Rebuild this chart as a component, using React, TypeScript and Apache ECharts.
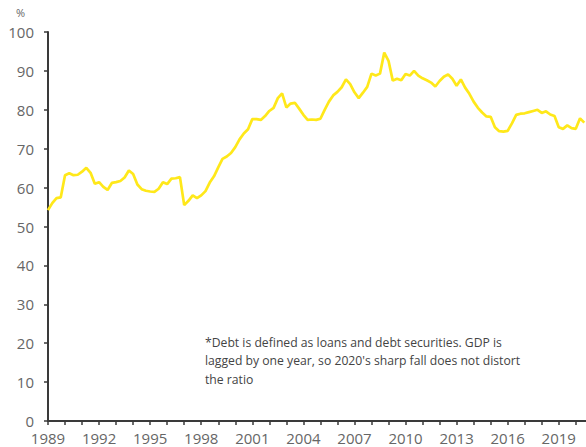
import React, { useEffect, useRef } from "react";
import * as echarts from "echarts";

// Quarterly values, 1989 Q1 onward (% of GDP)
const startYear = 1989;
const values: number[] = [
  54.2, 56.0, 57.3, 57.5, 63.2, 63.7, 63.2, 63.3, 64.1, 65.1,
  63.8, 61.0, 61.4, 60.2, 59.4, 61.2, 61.4, 61.7, 62.6, 64.4,
  63.5, 60.8, 59.6, 59.2, 59.0, 58.9, 59.7, 61.4, 60.9, 62.3,
  62.4, 62.7, 55.5, 56.6, 58.0, 57.3, 58.0, 59.1, 61.3, 62.9,
  65.2, 67.4, 68.0, 68.9, 70.4, 72.4, 73.9, 75.0, 77.6, 77.6,
  77.4, 78.4, 79.7, 80.5, 83.0, 84.2, 80.6, 81.6, 81.8, 80.3,
  78.7, 77.4, 77.5, 77.4, 77.7, 80.0, 82.1, 83.7, 84.6, 85.8,
  87.8, 86.6, 84.5, 83.0, 84.4, 85.9, 89.3, 88.8, 89.3, 94.7,
  92.6, 87.5, 88.0, 87.6, 89.2, 88.8, 90.0, 88.8, 88.1, 87.6,
  87.0, 86.0, 87.4, 88.5, 89.1, 88.0, 86.2, 87.8, 85.7, 84.1,
  82.1, 80.5, 79.3, 78.3, 78.2, 75.5, 74.5, 74.4, 74.6, 76.5,
  78.7, 79.0, 79.1, 79.4, 79.7, 80.0, 79.2, 79.6, 78.8, 78.4,
  75.5, 75.1, 76.0, 75.3, 75.1, 77.8, 76.7,
];
const labelYears = [1989, 1992, 1995, 1998, 2001, 2004, 2007, 2010, 2013, 2016, 2019];
const yTicks = { min: 0, max: 100, step: 10 };
const unitLabel = "%";
const note =
  "*Debt is defined as loans and debt securities. GDP is\nlagged by one year, so 2020's sharp fall does not distort\nthe ratio";

export default function App() {
  const ref = useRef<HTMLDivElement>(null);
  useEffect(() => {
    document.body.style.margin = "0";
    if (!ref.current) return;
    const chart = echarts.init(ref.current, undefined, { renderer: "svg" });
    const data = values.map((v, i) => [startYear + i / 4, v]);
    const axisColor = "#3a3a3a";
    const labelColor = "#666";
    const font = "Open Sans";
    chart.setOption({
      animation: false,
      grid: { left: 48, right: 0, top: 32, bottom: 26, containLabel: false },
      xAxis: {
        type: "value",
        min: 1989,
        max: 2020.6,
        interval: 1,
        splitLine: { show: false },
        axisLine: { show: true, lineStyle: { color: axisColor, width: 2 } },
        axisTick: { show: true, length: 4, lineStyle: { color: axisColor, width: 1.5 } },
        axisLabel: {
          color: labelColor,
          fontFamily: font,
          fontSize: 15,
          lineHeight: 13,
          margin: 10,
          showMaxLabel: false,
          formatter: (v: number) => (labelYears.includes(v) ? String(v) : ""),
        },
      },
      yAxis: {
        type: "value",
        min: yTicks.min,
        max: yTicks.max,
        interval: yTicks.step,
        splitLine: { show: false },
        axisLine: { show: true, lineStyle: { color: axisColor, width: 2 } },
        axisTick: { show: true, length: 4, lineStyle: { color: axisColor, width: 1.5 } },
        axisLabel: { color: labelColor, fontFamily: font, fontSize: 15, lineHeight: 12, margin: 14 },
      },
      graphic: [
        {
          type: "text",
          left: 16,
          top: 7,
          style: { text: unitLabel, fill: labelColor, font: `11px ${font}` },
        },
        {
          type: "text",
          left: 205,
          top: 333,
          style: {
            text: note,
            fill: "#444",
            font: `12.2px ${font}`,
            lineHeight: 18.5,
          },
        },
      ],
      series: [
        {
          type: "line",
          data,
          showSymbol: false,
          lineStyle: { color: "#FFE81A", width: 2.7 },
          itemStyle: { color: "#FFE81A" },
        },
      ],
    });
    return () => chart.dispose();
  }, []);
  return <div ref={ref} style={{ width: 586, height: 447 }} />;
}
